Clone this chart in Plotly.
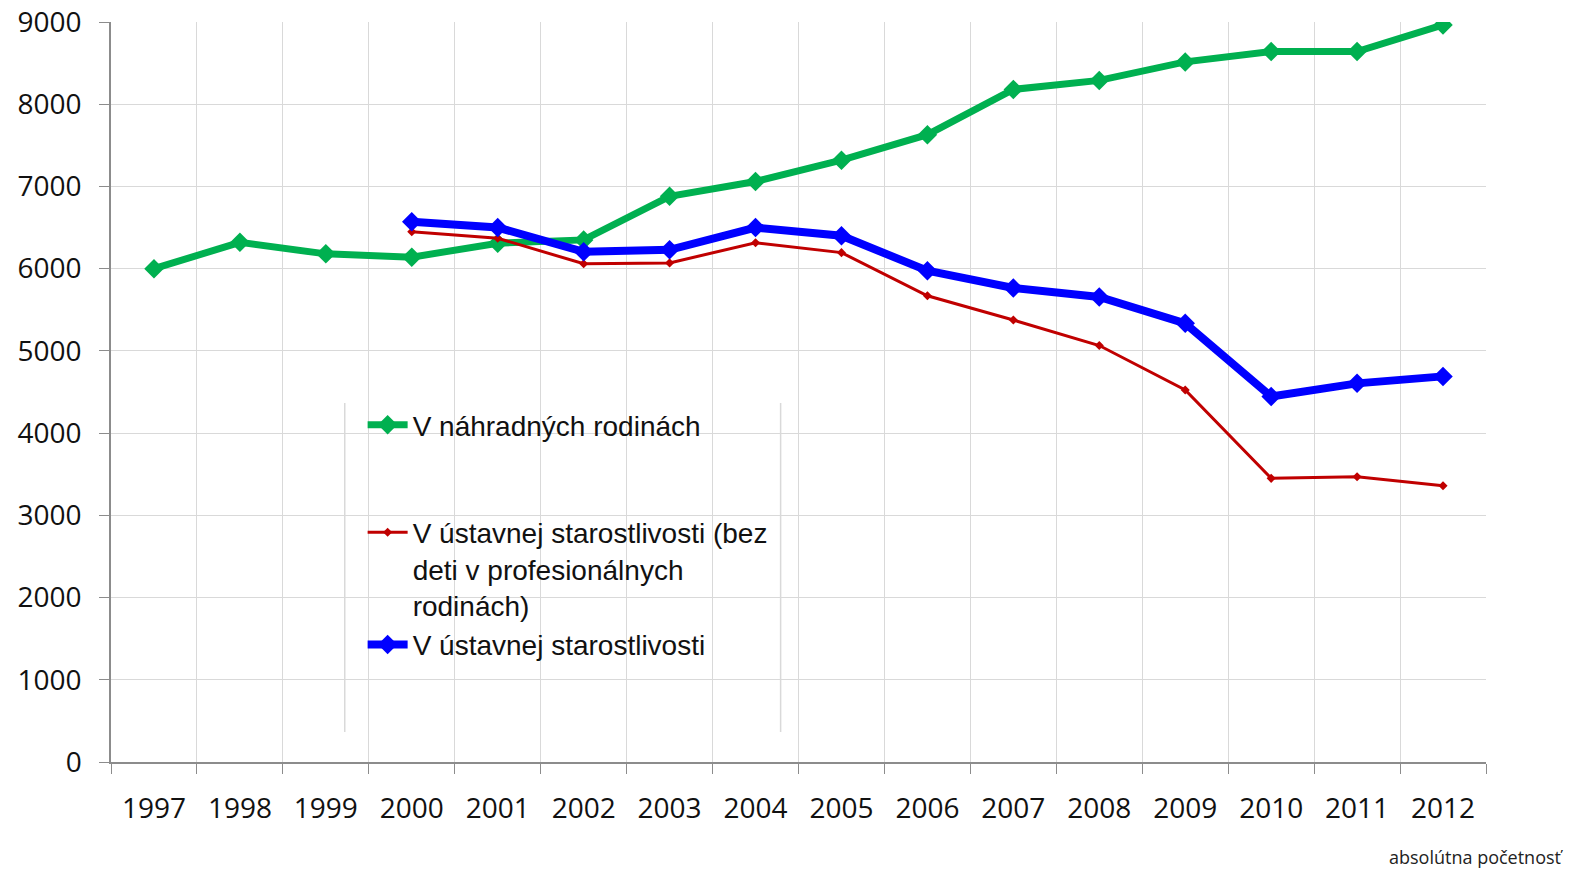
import plotly.graph_objects as go

years = [str(y) for y in range(1997, 2013)]

nahradne_rodiny = [6000, 6320, 6180, 6140, 6310, 6350, 6880, 7060, 7320, 7630,
                   8180, 8290, 8515, 8640, 8640, 8965]
ustavna_bez_prof = [None, None, None, 6450, 6370, 6060, 6070, 6315, 6195, 5670,
                    5375, 5065, 4525, 3450, 3470, 3360]
ustavna = [None, None, None, 6570, 6500, 6205, 6230, 6500, 6400, 5975,
           5765, 5655, 5335, 4445, 4605, 4690]

GREEN = "#00B050"
RED = "#C00000"
BLUE = "#0000FF"
GRID = "#d9d9d9"
AXIS = "#8c8c8c"

fig = go.Figure()
fig.add_trace(go.Scatter(
    x=years, y=nahradne_rodiny, name="V náhradných rodinách",
    mode="lines+markers", legendgroup="g1",
    line={"color": GREEN, "width": 7},
    marker={"symbol": "diamond", "size": 15, "color": GREEN},
))
fig.add_trace(go.Scatter(
    x=years, y=ustavna_bez_prof,
    name="V ústavnej starostlivosti (bez<br>deti v profesionálnych<br>rodinách)",
    mode="lines+markers", legendgroup="g2",
    line={"color": RED, "width": 3},
    marker={"symbol": "diamond", "size": 7, "color": RED},
))
fig.add_trace(go.Scatter(
    x=years, y=ustavna, name="V ústavnej starostlivosti",
    mode="lines+markers", legendgroup="g2",
    line={"color": BLUE, "width": 8},
    marker={"symbol": "diamond", "size": 15, "color": BLUE},
))

# white legend panel with side borders only
fig.add_shape(type="rect", xref="paper", yref="paper",
              x0=0.170, x1=0.487, y0=0.0405, y1=0.485,
              fillcolor="white", line={"width": 0}, layer="between")
for xv in (0.170, 0.487):
    fig.add_shape(type="line", xref="paper", yref="paper",
                  x0=xv, x1=xv, y0=0.0405, y1=0.485,
                  line={"color": GRID, "width": 1.5}, layer="between")

fig.add_annotation(text="absolútna početnosť", xref="paper", yref="paper",
                   x=1.058, y=-0.128, xanchor="right", yanchor="middle",
                   showarrow=False,
                   font={"size": 18, "family": "Open Sans", "color": "#222"})

# page body adds an 8px margin, so the figure is 8px smaller and shifted back
fig.update_layout(
    width=1571, height=861,
    margin={"l": 103, "r": 93, "t": 14, "b": 107},
    paper_bgcolor="white", plot_bgcolor="white",
    font={"family": "Open Sans", "color": "#111"},
    legend={
        "x": 0.183, "y": 0.489, "xanchor": "left", "yanchor": "top",
        "bgcolor": "rgba(0,0,0,0)", "valign": "top",
        "font": {"family": "Liberation Sans", "size": 28, "color": "#111"},
        "traceorder": "grouped", "tracegroupgap": 68,
        "itemwidth": 40,
    },
    xaxis={
        "type": "category", "range": [-0.5, 15.5], "automargin": False,
        "tickson": "boundaries", "ticks": "outside", "ticklen": 10,
        "tickcolor": AXIS, "showgrid": True, "gridcolor": GRID,
        "showline": True, "linecolor": AXIS, "linewidth": 1.5,
        "ticklabelstandoff": 21,
        "tickfont": {"size": 28, "family": "Open Sans"},
    },
    yaxis={
        "range": [0, 9000], "dtick": 1000, "ticks": "outside", "ticklen": 10,
        "tickcolor": AXIS, "showgrid": True, "gridcolor": GRID,
        "showline": True, "linecolor": AXIS, "linewidth": 1.5,
        "automargin": False, "ticklabelstandoff": 12,
        "ticklabeloverflow": "allow",
        "zeroline": False, "tickfont": {"size": 28, "family": "Open Sans"},
    },
)

fig.write_html("out.html")
